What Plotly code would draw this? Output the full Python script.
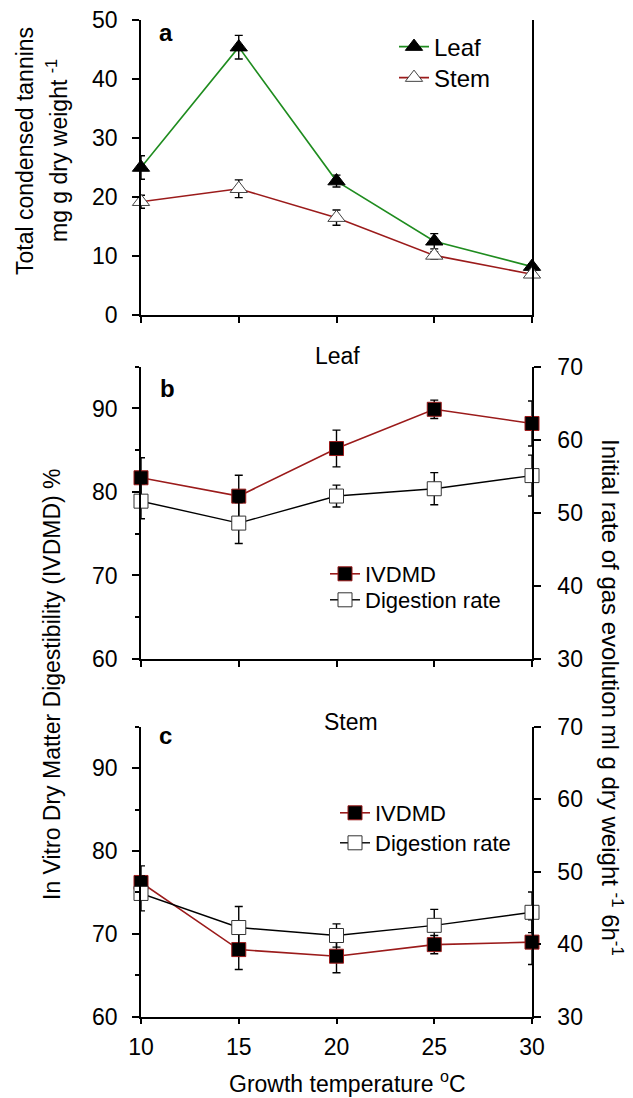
import plotly.graph_objects as go

# ---------------- data ----------------
temps = [10, 15, 20, 25, 30]
x_ticks = [10, 15, 20, 25, 30]

# panel a: total condensed tannins (mg g dry weight^-1)
leaf_tannin = [25.0, 45.4, 22.7, 12.5, 8.2]
leaf_tannin_err = [2.0, 2.0, 1.0, 1.3, 0.5]
stem_tannin = [19.2, 21.4, 16.5, 10.1, 6.9]
stem_tannin_err = [1.1, 1.5, 1.3, 0.6, 0.5]

# panel b: leaf
leaf_ivdmd = [81.7, 79.5, 85.2, 89.9, 88.2]
leaf_ivdmd_err = [2.4, 2.5, 2.2, 1.1, 2.7]
leaf_rate = [51.6, 48.6, 52.3, 53.3, 55.1]
leaf_rate_err = [2.4, 2.8, 1.5, 2.2, 2.8]

# panel c: stem
stem_ivdmd = [76.2, 68.1, 67.3, 68.7, 69.0]
stem_ivdmd_err = [2.0, 2.4, 2.0, 1.1, 2.7]
stem_rate = [47.0, 42.3, 41.2, 42.6, 44.4]
stem_rate_err = [2.4, 2.9, 1.6, 2.2, 2.8]

# ---------------- styling ----------------
OFF = 8                      # page body margin of the html page
W, H = 633 - OFF, 1098 - OFF
FONT = "Liberation Sans, Arial, sans-serif"
GREEN = "#1f8c1f"
RED = "#9b1b1b"


def px(x):
    return (x - OFF) / W


def py(y):
    return 1 - (y - OFF) / H


xdom = [px(141), px(532)]
dom_a = [py(315), py(20)]
dom_b = [py(659), py(366.7)]
dom_c = [py(1016.7), py(726.7)]

err_style = dict(type="data", color="black", thickness=1.4, width=4)

fig = go.Figure()

# panel a
fig.add_trace(go.Scatter(
    x=temps, y=leaf_tannin, name="Leaf", mode="lines+markers",
    xaxis="x", yaxis="y", legend="legend", cliponaxis=False, showlegend=True,
    line=dict(color=GREEN, width=1.6),
    marker=dict(symbol="triangle-up", size=15, color="black", line=dict(color="black", width=1)),
    error_y=dict(array=leaf_tannin_err, **err_style),
))
fig.add_trace(go.Scatter(
    x=temps, y=stem_tannin, name="Stem", mode="lines+markers",
    xaxis="x", yaxis="y", legend="legend2", cliponaxis=False, showlegend=True,
    line=dict(color=RED, width=1.6),
    marker=dict(symbol="triangle-up", size=15, color="white", line=dict(color="#444444", width=1)),
    error_y=dict(array=stem_tannin_err, **err_style),
))

# panel b
fig.add_trace(go.Scatter(
    x=temps, y=leaf_ivdmd, name="IVDMD", mode="lines+markers",
    xaxis="x2", yaxis="y2", legend="legend3", cliponaxis=False, showlegend=True,
    line=dict(color=RED, width=1.6),
    marker=dict(symbol="square", size=14, color="black", line=dict(color=RED, width=1)),
    error_y=dict(array=leaf_ivdmd_err, **err_style),
))
fig.add_trace(go.Scatter(
    x=temps, y=leaf_rate, name="Digestion rate", mode="lines+markers",
    xaxis="x2", yaxis="y3", legend="legend4", cliponaxis=False, showlegend=True,
    line=dict(color="black", width=1.4),
    marker=dict(symbol="square", size=14, color="white", line=dict(color="#333333", width=1)),
    error_y=dict(array=leaf_rate_err, **err_style),
))

# panel c
fig.add_trace(go.Scatter(
    x=temps, y=stem_ivdmd, name="IVDMD", mode="lines+markers",
    xaxis="x3", yaxis="y4", legend="legend5", cliponaxis=False, showlegend=True,
    line=dict(color=RED, width=1.6),
    marker=dict(symbol="square", size=14, color="black", line=dict(color=RED, width=1)),
    error_y=dict(array=stem_ivdmd_err, **err_style),
))
fig.add_trace(go.Scatter(
    x=temps, y=stem_rate, name="Digestion rate", mode="lines+markers",
    xaxis="x3", yaxis="y5", legend="legend6", cliponaxis=False, showlegend=True,
    line=dict(color="black", width=1.4),
    marker=dict(symbol="square", size=14, color="white", line=dict(color="#333333", width=1)),
    error_y=dict(array=stem_rate_err, **err_style),
))

axis_common = dict(showline=True, linecolor="black", linewidth=1.5, ticks="outside",
                   ticklen=7, tickwidth=1.5, tickcolor="black", showgrid=False, zeroline=False,
                   automargin=False, ticklabeloverflow="allow",
                   tickfont=dict(family=FONT, size=23, color="black"))

xcommon = dict(axis_common, domain=xdom, range=[10, 30], tickvals=x_ticks, ticklen=6)

minor_left = dict(dtick=5, ticks="outside", ticklen=4, tickwidth=1.5, tickcolor="black", showgrid=False)


def leg(x_text, y_center, size):
    return dict(x=px(x_text - 42), y=py(y_center), xanchor="left", yanchor="middle",
                bgcolor="rgba(0,0,0,0)", borderwidth=0, visible=True,
                font=dict(family=FONT, size=size, color="black"), itemwidth=30)


fig.update_layout(
    width=W, height=H, autosize=False, showlegend=True,
    margin=dict(l=0, r=0, t=0, b=0, pad=0, autoexpand=False),
    paper_bgcolor="white", plot_bgcolor="rgba(0,0,0,0)",
    font=dict(family=FONT, color="black"),
    xaxis=dict(xcommon, anchor="y", showticklabels=False),
    xaxis2=dict(xcommon, anchor="y2", showticklabels=False),
    xaxis3=dict(xcommon, anchor="y4", showticklabels=True, ticklabelstandoff=3),
    yaxis=dict(axis_common, domain=dom_a, anchor="x", range=[0, 50], dtick=10, mirror=True,
               ticklabelstandoff=10),
    yaxis2=dict(axis_common, domain=dom_b, anchor="x2", range=[60, 95], tickvals=[60, 70, 80, 90],
                minor=minor_left, ticklabelstandoff=10),
    yaxis3=dict(axis_common, anchor="x2", overlaying="y2", side="right", range=[30, 70], dtick=10,
                ticklabelstandoff=12),
    yaxis4=dict(axis_common, domain=dom_c, anchor="x3", range=[60, 95], tickvals=[60, 70, 80, 90],
                minor=minor_left, ticklabelstandoff=10),
    yaxis5=dict(axis_common, anchor="x3", overlaying="y4", side="right", range=[30, 70], dtick=10,
                ticklabelstandoff=12),
    legend=leg(436, 47, 24),
    legend2=leg(436, 78, 24),
    legend3=leg(367, 574, 22),
    legend4=leg(367, 600, 22),
    legend5=leg(377, 813, 22),
    legend6=leg(377, 843, 22),
)


def ann(text, x, y, size=23, angle=0, bold=False):
    if bold:
        text = "<b>" + text + "</b>"
    fig.add_annotation(text=text, x=px(x), y=py(y), xref="paper", yref="paper",
                       xanchor="center", yanchor="middle", showarrow=False, textangle=angle,
                       font=dict(family=FONT, size=size, color="black"))


ann("a", 166, 33, size=24, bold=True)
ann("b", 167, 388, size=24, bold=True)
ann("c", 165, 735, size=24, bold=True)
ann("Leaf", 337, 356, size=23)
ann("Stem", 351, 722, size=23)
ann("Total condensed tannins", 25, 151, size=23, angle=-90)
ann("mg g dry weight <sup>-1</sup>", 57, 151, size=23, angle=-90)
ann("In Vitro Dry Matter Digestibility (IVDMD) %", 52, 684, size=23, angle=-90)
ann("Initial rate of gas evolution ml g dry weight <sup>-1</sup> 6h<sup>-1</sup>", 612, 697, size=24, angle=90)
ann("Growth temperature <sup>o</sup>C", 347, 1082, size=23)

fig.write_html("out.html")
